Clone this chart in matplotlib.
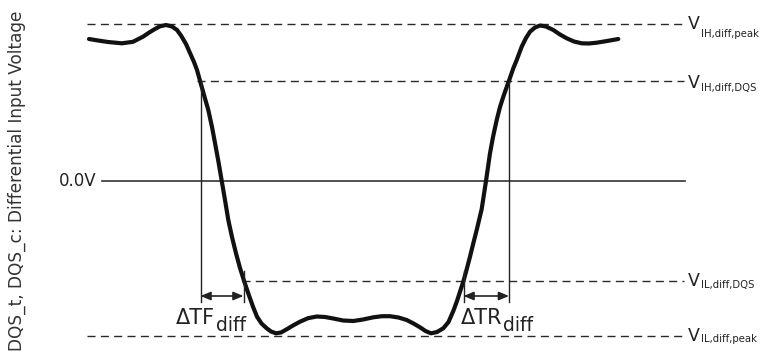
import matplotlib
matplotlib.use('Agg')
import matplotlib.pyplot as plt

# voltage levels (arbitrary units, 0 = 0.0V)
v_ih_peak = 157
v_ih_dqs = 100
v_il_dqs = -100
v_il_peak = -155

# crossing times of DQS levels
t_fall_ih = 200.5
t_fall_il = 243.5
t_rise_il = 463.5
t_rise_ih = 509

# waveform
t_wave = [89, 98, 108, 122, 133, 143, 150, 155, 160, 166, 172, 177, 181, 186, 190, 194, 197,
          200, 204, 208.3, 212, 215, 218.5, 221.7, 225, 228.3, 232, 236, 240, 244, 248.5, 253,
          257, 261.5, 266.7, 271, 276, 281, 286.7, 293, 300, 308, 316.7, 325, 333.3, 343,
          353.3, 363, 373.3, 382, 390, 398.5, 406.7, 413.5, 420, 425.5, 431, 437, 443.3,
          448.5, 453.3, 457, 460, 463.5, 466.5, 470, 473.3, 476.7, 481.7, 486, 490, 493,
          496.7, 500, 503.3, 506, 509, 513.3, 516.7, 521.7, 526, 530, 535, 540, 546, 553.3,
          560, 566.7, 574, 581.7, 589, 596.7, 607, 618.3]
v_wave = [142, 140.5, 139, 137.7, 139.2, 144.3, 149, 152, 154.7, 156, 154.5, 151, 145.5, 137,
          128, 119, 111, 100.3, 86, 71, 54, 38, 19, 0.3, -19, -39, -56, -72.3, -87, -99.7,
          -113, -125.7, -135.7, -142.5, -147.3, -150.5, -152.3, -151.5, -148.3, -144.5,
          -140.7, -137.2, -135.5, -136, -137.5, -139.5, -140, -138.5, -136.3, -135.2, -135.2,
          -136.5, -139, -142.5, -146.3, -150, -152.3, -151, -147.3, -141, -130, -120, -110.7,
          -100, -89, -75.7, -62.3, -49, -28, 0, 27.7, 44, 61, 74, 84.3, 92, 100.3, 112.7,
          121, 134.3, 143, 149.3, 153.5, 155.5, 154.5, 151, 146.5, 142.7, 139.5, 137.7,
          137.5, 138.3, 140, 142]

level_vals = [v_ih_peak, v_ih_dqs, v_il_dqs, v_il_peak]
level_start = [87, 197, 242, 87]
level_subs = ['IH,diff,peak', 'IH,diff,DQS', 'IL,diff,DQS', 'IL,diff,peak']
# small per-label nudges (px) for V and subscript
v_dy = [0, -2, 0, 0]
sub_dy = [-13, -10, -7, -6]

fig = plt.figure(figsize=(7.64, 3.62), dpi=100)
ax = fig.add_axes([0, 0, 1, 1])
ax.set_xlim(0, 764)
ax.set_ylim(-181, 181)
ax.axis('off')

dash = (0, (5.8, 3.8))
for v, x0 in zip(level_vals, level_start):
    ax.plot([x0, 684], [v, v], color='#2a2a2a', lw=1.0, linestyle=dash)

# 0.0V reference
ax.plot([102, 685], [0, 0], color='#333333', lw=1.2)
ax.text(97, 0, '0.0V', ha='right', va='center', fontsize=12, color='#222222')

# waveform
ax.plot(t_wave, v_wave, color='#111111', lw=3.0, solid_capstyle='round')

# timing markers
y_bot = -121
y_arr = -115
for t in [t_fall_ih, t_rise_ih]:
    ax.plot([t, t], [v_ih_dqs, y_bot], color='#222222', lw=1.0)
for t in [t_fall_il, t_rise_il]:
    ax.plot([t, t], [v_il_dqs + 10, y_bot], color='#222222', lw=1.0)
for a, b in [(t_fall_ih, t_fall_il), (t_rise_il, t_rise_ih)]:
    ax.annotate('', xy=(b, y_arr), xytext=(a, y_arr),
                arrowprops=dict(arrowstyle='<|-|>,head_length=0.6,head_width=0.25',
                                color='#222222', lw=1.2, mutation_scale=10,
                                shrinkA=0, shrinkB=0))

# delta labels
for x, name in [(176, '\u0394TF'), (461, '\u0394TR')]:
    main = ax.text(x, -143, name, ha='left', va='baseline', fontsize=15, color='#222222')
    ax.annotate('diff', xy=(1, 0), xycoords=main, xytext=(0.5, -2.5),
                textcoords='offset points', ha='left', va='baseline',
                fontsize=13.5, color='#222222')

# level labels on the right
for v, sub, dv, ds in zip(level_vals, level_subs, v_dy, sub_dy):
    ax.text(688, v + dv, 'V', ha='left', va='center', fontsize=12.5, color='#222222')
    ax.text(701, v + ds, sub, ha='left', va='baseline', fontsize=7.3, color='#222222')

ax.text(17, 0, 'DQS_t, DQS_c: Differential Input Voltage', rotation=90,
        ha='center', va='center', fontsize=12.2, color='#333333')

fig.savefig('out.png', dpi=100)
